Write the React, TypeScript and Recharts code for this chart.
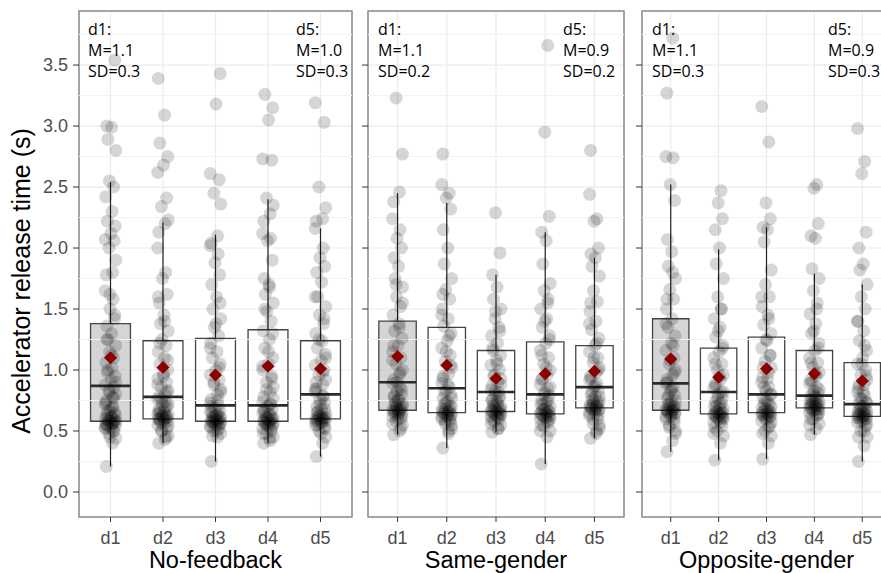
import {
  ComposedChart,
  Scatter,
  XAxis,
  YAxis,
  CartesianGrid,
  ReferenceArea,
  ReferenceLine,
} from 'recharts';

const CATS = ['d1', 'd2', 'd3', 'd4', 'd5'];
const Y_TICKS = [0, 0.5, 1, 1.5, 2, 2.5, 3, 3.5];
const Y_MINOR = [0.25, 0.75, 1.25, 1.75, 2.25, 2.75, 3.25, 3.75];
const Y_DOMAIN: [number, number] = [-0.205, 3.943];
const X_DOMAIN: [number, number] = [0.4, 5.6];

// fixed horizontal jitter pattern (category units)
const JITTER = [-0.08, 0.04, 0.1, -0.03, 0.07, -0.1, 0.01, 0.09, -0.06, 0.03, -0.09, 0.06, -0.02, 0.1, -0.05, 0.02, -0.07, 0.08, -0.01, 0.05, -0.1];

// No-feedback
const NF_D1 = [0.21, 0.4, 0.44, 0.48, 0.5, 0.52, 0.53, 0.54, 0.55, 0.56, 0.56, 0.57, 0.58, 0.59, 0.6, 0.62, 0.63, 0.65, 0.67, 0.7, 0.72, 0.75, 0.78, 0.8, 0.83, 0.86, 0.88, 0.92, 0.95, 0.98, 1.02, 1.06, 1.1, 1.15, 1.2, 1.25, 1.3, 1.36, 1.42, 1.5, 1.58, 1.65, 1.78, 1.8, 1.9, 2.0, 2.06, 2.07, 2.12, 2.18, 2.22, 2.3, 2.42, 2.5, 2.55, 2.8, 2.89, 2.99, 3.0, 3.54,
  0.45, 0.5, 0.53, 0.55, 0.56, 0.57, 0.58, 0.59, 0.6, 0.61, 0.63, 0.66, 0.69, 0.73, 0.77, 0.82, 0.9, 1.0, 1.12, 1.25, 1.45, 1.62];
const NF_D2 = [0.4, 0.43, 0.46, 0.5, 0.52, 0.55, 0.56, 0.58, 0.59, 0.6, 0.6, 0.61, 0.62, 0.63, 0.65, 0.66, 0.68, 0.7, 0.72, 0.74, 0.76, 0.78, 0.8, 0.83, 0.86, 0.9, 0.93, 0.97, 1.0, 1.05, 1.1, 1.15, 1.2, 1.25, 1.32, 1.38, 1.45, 1.55, 1.62, 1.75, 1.8, 2.0, 2.13, 2.2, 2.23, 2.34, 2.41, 2.62, 2.68, 2.75, 2.86, 3.09, 3.39,
  0.45, 0.5, 0.54, 0.57, 0.59, 0.6, 0.61, 0.62, 0.63, 0.64, 0.66, 0.69, 0.72, 0.76, 0.82, 0.88, 0.95, 1.08, 1.22, 1.4, 1.6];
const NF_D3 = [0.25, 0.45, 0.48, 0.5, 0.52, 0.54, 0.55, 0.56, 0.57, 0.58, 0.58, 0.59, 0.6, 0.61, 0.62, 0.63, 0.65, 0.67, 0.69, 0.71, 0.73, 0.76, 0.8, 0.84, 0.88, 0.92, 0.96, 1.0, 1.05, 1.1, 1.15, 1.22, 1.28, 1.35, 1.42, 1.5, 1.6, 1.7, 1.78, 1.88, 1.95, 2.02, 2.04, 2.1, 2.36, 2.45, 2.56, 2.61, 3.18, 3.43,
  0.46, 0.5, 0.53, 0.55, 0.56, 0.57, 0.58, 0.59, 0.6, 0.61, 0.62, 0.64, 0.66, 0.7, 0.75, 0.82, 0.9, 1.02, 1.18, 1.38, 1.55];
const NF_D4 = [0.4, 0.42, 0.45, 0.48, 0.5, 0.52, 0.54, 0.55, 0.56, 0.57, 0.58, 0.59, 0.6, 0.61, 0.62, 0.64, 0.66, 0.68, 0.7, 0.72, 0.74, 0.78, 0.82, 0.86, 0.9, 0.95, 1.0, 1.05, 1.1, 1.18, 1.25, 1.32, 1.4, 1.48, 1.55, 1.62, 1.7, 1.75, 1.9, 2.06, 2.08, 2.12, 2.22, 2.28, 2.35, 2.41, 2.72, 2.73, 3.05, 3.15, 3.26,
  0.44, 0.48, 0.52, 0.55, 0.56, 0.57, 0.58, 0.59, 0.6, 0.61, 0.63, 0.65, 0.68, 0.72, 0.77, 0.84, 0.93, 1.03, 1.15, 1.3, 1.5, 1.68];
const NF_D5 = [0.29, 0.4, 0.45, 0.5, 0.53, 0.55, 0.57, 0.58, 0.59, 0.6, 0.6, 0.61, 0.62, 0.64, 0.66, 0.68, 0.7, 0.73, 0.76, 0.79, 0.82, 0.85, 0.88, 0.92, 0.96, 1.0, 1.04, 1.08, 1.13, 1.18, 1.24, 1.3, 1.38, 1.45, 1.52, 1.6, 1.72, 1.8, 1.85, 1.92, 2.0, 2.16, 2.22, 2.24, 2.33, 2.5, 3.03, 3.19,
  0.48, 0.52, 0.55, 0.57, 0.58, 0.59, 0.6, 0.61, 0.62, 0.63, 0.65, 0.68, 0.72, 0.78, 0.84, 0.9, 0.98, 1.1, 1.25, 1.42, 1.6];
const NF_LOW = [0.21, 0.4, 0.25, 0.4, 0.29];
const NF_Q1 = [0.58, 0.6, 0.58, 0.58, 0.6];
const NF_MED = [0.87, 0.78, 0.71, 0.71, 0.8];
const NF_Q3 = [1.38, 1.24, 1.26, 1.33, 1.24];
const NF_HIGH = [2.54, 2.21, 2.11, 2.4, 2.16];
const NF_MEAN = [1.1, 1.02, 0.96, 1.03, 1.01];

// Same-gender
const SG_D1 = [0.47, 0.5, 0.55, 0.58, 0.6, 0.62, 0.64, 0.65, 0.66, 0.67, 0.68, 0.69, 0.7, 0.72, 0.74, 0.76, 0.78, 0.8, 0.83, 0.86, 0.89, 0.92, 0.96, 1.0, 1.05, 1.1, 1.15, 1.2, 1.26, 1.32, 1.38, 1.45, 1.52, 1.6, 1.68, 1.75, 1.85, 1.92, 2.0, 2.08, 2.15, 2.24, 2.38, 2.46, 2.77, 3.23,
  0.52, 0.56, 0.6, 0.62, 0.64, 0.65, 0.66, 0.67, 0.68, 0.7, 0.72, 0.75, 0.79, 0.84, 0.9, 0.98, 1.08, 1.2, 1.35, 1.55, 1.7];
const SG_D2 = [0.36, 0.48, 0.52, 0.56, 0.58, 0.6, 0.62, 0.63, 0.64, 0.65, 0.66, 0.67, 0.68, 0.7, 0.72, 0.74, 0.77, 0.8, 0.83, 0.86, 0.89, 0.93, 0.97, 1.02, 1.07, 1.12, 1.18, 1.24, 1.3, 1.36, 1.42, 1.5, 1.58, 1.66, 1.75, 1.87, 2.0, 2.15, 2.32, 2.41, 2.45, 2.52, 2.77,
  0.5, 0.55, 0.58, 0.6, 0.62, 0.63, 0.64, 0.65, 0.66, 0.68, 0.7, 0.73, 0.77, 0.82, 0.88, 0.95, 1.04, 1.15, 1.28, 1.45, 1.62];
const SG_D3 = [0.49, 0.52, 0.55, 0.58, 0.6, 0.62, 0.63, 0.64, 0.65, 0.66, 0.67, 0.68, 0.69, 0.7, 0.72, 0.74, 0.76, 0.78, 0.8, 0.82, 0.84, 0.87, 0.9, 0.93, 0.96, 1.0, 1.04, 1.08, 1.12, 1.16, 1.22, 1.28, 1.35, 1.42, 1.5, 1.58, 1.68, 1.78, 1.96, 2.29,
  0.52, 0.56, 0.59, 0.61, 0.63, 0.64, 0.65, 0.66, 0.67, 0.68, 0.7, 0.72, 0.75, 0.78, 0.83, 0.88, 0.95, 1.05, 1.18, 1.32, 1.48];
const SG_D4 = [0.23, 0.45, 0.5, 0.54, 0.57, 0.6, 0.61, 0.62, 0.63, 0.64, 0.65, 0.66, 0.68, 0.7, 0.72, 0.74, 0.76, 0.79, 0.82, 0.85, 0.88, 0.92, 0.96, 1.0, 1.05, 1.1, 1.16, 1.22, 1.28, 1.35, 1.42, 1.5, 1.58, 1.65, 1.71, 1.87, 2.06, 2.13, 2.26, 2.95, 3.66,
  0.5, 0.55, 0.58, 0.6, 0.62, 0.63, 0.64, 0.65, 0.66, 0.67, 0.69, 0.72, 0.75, 0.8, 0.86, 0.93, 1.02, 1.12, 1.25, 1.4, 1.55];
const SG_D5 = [0.44, 0.48, 0.52, 0.56, 0.6, 0.63, 0.65, 0.67, 0.68, 0.69, 0.7, 0.71, 0.72, 0.74, 0.76, 0.78, 0.8, 0.83, 0.86, 0.89, 0.92, 0.95, 0.98, 1.02, 1.06, 1.1, 1.15, 1.2, 1.26, 1.33, 1.4, 1.48, 1.56, 1.65, 1.77, 1.85, 1.92, 1.95, 2.0, 2.22, 2.24, 2.44, 2.8,
  0.5, 0.55, 0.6, 0.63, 0.65, 0.67, 0.68, 0.69, 0.7, 0.71, 0.73, 0.75, 0.78, 0.82, 0.87, 0.93, 1.0, 1.1, 1.22, 1.38, 1.55];
const SG_LOW = [0.47, 0.36, 0.49, 0.23, 0.44];
const SG_Q1 = [0.67, 0.65, 0.66, 0.64, 0.69];
const SG_MED = [0.9, 0.85, 0.82, 0.8, 0.86];
const SG_Q3 = [1.4, 1.35, 1.16, 1.23, 1.2];
const SG_HIGH = [2.45, 2.37, 1.78, 2.13, 1.92];
const SG_MEAN = [1.11, 1.04, 0.93, 0.97, 0.99];

// Opposite-gender
const OG_D1 = [0.33, 0.42, 0.48, 0.53, 0.57, 0.6, 0.62, 0.64, 0.65, 0.66, 0.67, 0.68, 0.69, 0.7, 0.72, 0.74, 0.77, 0.8, 0.83, 0.86, 0.89, 0.92, 0.96, 1.0, 1.05, 1.1, 1.16, 1.22, 1.28, 1.35, 1.42, 1.5, 1.58, 1.66, 1.75, 1.85, 1.97, 2.07, 2.39, 2.52, 2.74, 2.75, 3.27, 3.72,
  0.5, 0.55, 0.6, 0.62, 0.64, 0.65, 0.66, 0.67, 0.68, 0.7, 0.72, 0.75, 0.79, 0.84, 0.9, 0.98, 1.08, 1.2, 1.38, 1.58, 1.8];
const OG_D2 = [0.26, 0.4, 0.46, 0.5, 0.54, 0.57, 0.6, 0.61, 0.62, 0.63, 0.64, 0.65, 0.66, 0.68, 0.7, 0.72, 0.74, 0.77, 0.8, 0.82, 0.85, 0.88, 0.92, 0.96, 1.0, 1.05, 1.1, 1.15, 1.2, 1.27, 1.35, 1.42, 1.5, 1.6, 1.75, 1.87, 2.0, 2.15, 2.24, 2.37, 2.47,
  0.48, 0.53, 0.57, 0.6, 0.61, 0.62, 0.63, 0.64, 0.65, 0.66, 0.68, 0.7, 0.73, 0.77, 0.82, 0.88, 0.95, 1.05, 1.18, 1.32, 1.5];
const OG_D3 = [0.27, 0.4, 0.46, 0.5, 0.54, 0.58, 0.6, 0.62, 0.63, 0.64, 0.65, 0.66, 0.68, 0.7, 0.72, 0.74, 0.77, 0.8, 0.83, 0.86, 0.9, 0.94, 0.98, 1.02, 1.07, 1.12, 1.18, 1.24, 1.3, 1.37, 1.45, 1.52, 1.6, 1.7, 1.82, 2.05, 2.15, 2.17, 2.24, 2.37, 2.87, 3.16,
  0.48, 0.53, 0.57, 0.6, 0.62, 0.63, 0.64, 0.65, 0.66, 0.67, 0.69, 0.72, 0.75, 0.8, 0.86, 0.93, 1.02, 1.12, 1.25, 1.42, 1.6];
const OG_D4 = [0.47, 0.52, 0.56, 0.6, 0.63, 0.65, 0.67, 0.68, 0.69, 0.7, 0.71, 0.72, 0.73, 0.74, 0.76, 0.78, 0.79, 0.81, 0.83, 0.86, 0.89, 0.92, 0.95, 0.98, 1.02, 1.06, 1.1, 1.16, 1.22, 1.3, 1.38, 1.46, 1.55, 1.65, 1.75, 1.83, 2.08, 2.1, 2.2, 2.49, 2.52,
  0.55, 0.6, 0.63, 0.65, 0.67, 0.68, 0.69, 0.7, 0.71, 0.72, 0.73, 0.75, 0.77, 0.8, 0.84, 0.9, 0.97, 1.06, 1.18, 1.32, 1.5];
const OG_D5 = [0.25, 0.38, 0.45, 0.5, 0.54, 0.57, 0.59, 0.6, 0.61, 0.62, 0.63, 0.64, 0.65, 0.66, 0.68, 0.7, 0.72, 0.74, 0.76, 0.79, 0.82, 0.85, 0.88, 0.92, 0.96, 1.0, 1.05, 1.1, 1.16, 1.24, 1.32, 1.4, 1.5, 1.6, 1.7, 1.82, 1.87, 2.0, 2.13, 2.61, 2.71, 2.98,
  0.45, 0.5, 0.55, 0.58, 0.6, 0.61, 0.62, 0.63, 0.64, 0.65, 0.66, 0.68, 0.7, 0.73, 0.77, 0.82, 0.88, 0.95, 1.05, 1.2, 1.4];
const OG_LOW = [0.33, 0.26, 0.27, 0.47, 0.25];
const OG_Q1 = [0.67, 0.64, 0.65, 0.69, 0.62];
const OG_MED = [0.89, 0.82, 0.8, 0.79, 0.72];
const OG_Q3 = [1.42, 1.18, 1.27, 1.16, 1.06];
const OG_HIGH = [2.52, 1.99, 2.17, 1.79, 1.7];
const OG_MEAN = [1.09, 0.94, 1.01, 0.97, 0.91];

const NF_NOTES = [['d1:', 'M=1.1', 'SD=0.3'], ['d5:', 'M=1.0', 'SD=0.3']];
const SG_NOTES = [['d1:', 'M=1.1', 'SD=0.2'], ['d5:', 'M=0.9', 'SD=0.2']];
const OG_NOTES = [['d1:', 'M=1.1', 'SD=0.3'], ['d5:', 'M=0.9', 'SD=0.3']];

const BOX_HALF = 0.38;
const FONT = '"Liberation Sans", Arial, sans-serif';

interface PanelProps {
  title: string;
  groups: number[][];
  low: number[];
  q1: number[];
  med: number[];
  q3: number[];
  high: number[];
  mean: number[];
  notes: string[][];
  left: number;
  width: number;
  axisWidth: number;
  rightMargin: number;
  showYLabels: boolean;
  noteLeft: [number, number];
}

const Dot = (props: any) => (
  <circle cx={props.cx} cy={props.cy} r={6.5} fill="#000" fillOpacity={0.16} />
);

const Diamond = (props: any) => {
  const { cx, cy } = props;
  const s = 6.5;
  return (
    <polygon
      points={`${cx},${cy - s} ${cx + s},${cy} ${cx},${cy + s} ${cx - s},${cy}`}
      fill="#8b0000"
    />
  );
};

const YTitle = (props: any) => {
  const { viewBox } = props;
  const x = 21;
  const y = viewBox.y + viewBox.height / 2 + 17;
  return (
    <text
      x={x}
      y={y}
      transform={`rotate(-90, ${x}, ${y})`}
      textAnchor="middle"
      dominantBaseline="central"
      fill="#000"
      fontSize={25}
    >
      Accelerator release time (s)
    </text>
  );
};

const Panel = (p: PanelProps) => {
  const points = p.groups.flatMap((vals, i) =>
    vals.map((v, j) => ({ x: i + 1 + JITTER[j % JITTER.length], y: v }))
  );
  const means = p.mean.map((m, i) => ({ x: i + 1, y: m }));

  return (
    <div style={{ position: 'absolute', left: p.left, top: 0 }}>
      <ComposedChart
        width={p.width}
        height={573}
        margin={{ top: 11, right: p.rightMargin, left: 0, bottom: 0 }}
      >
        <CartesianGrid stroke="#ebebeb" strokeWidth={1.2} />
        {Y_MINOR.map((v) => (
          <ReferenceLine key={`m${v}`} y={v} stroke="#f3f3f3" strokeWidth={1} />
        ))}
        <XAxis
          dataKey="x"
          type="number"
          domain={X_DOMAIN}
          ticks={[1, 2, 3, 4, 5]}
          tickFormatter={(v) => CATS[v - 1]}
          allowDataOverflow
          height={56}
          axisLine={false}
          tickLine={{ stroke: '#333' }}
          tickSize={5}
          tickMargin={9}
          tick={{ fill: '#4d4d4d', fontSize: 18 }}
          label={{
            value: p.title,
            position: 'insideBottom',
            offset: 5,
            style: { fill: '#000', fontSize: 23.5 },
          }}
        />
        <YAxis
          dataKey="y"
          type="number"
          domain={Y_DOMAIN}
          ticks={Y_TICKS}
          allowDataOverflow
          width={p.axisWidth}
          axisLine={false}
          tickLine={{ stroke: '#333' }}
          tickSize={6}
          tickMargin={5}
          tickFormatter={(v) => (p.showYLabels ? v.toFixed(1) : '')}
          tick={{ fill: '#4d4d4d', fontSize: 18 }}
          label={p.showYLabels ? { content: YTitle } : undefined}
        />
        {p.q1.map((q, i) => (
          <ReferenceArea
            key={`b${i}`}
            x1={i + 1 - BOX_HALF}
            x2={i + 1 + BOX_HALF}
            y1={q}
            y2={p.q3[i]}
            fill={i === 0 ? '#b3b3b3' : 'none'}
            fillOpacity={i === 0 ? 0.55 : 0}
            stroke="#444"
            strokeWidth={1.3}
          />
        ))}
        {p.low.map((l, i) => (
          <ReferenceLine
            key={`wl${i}`}
            segment={[{ x: i + 1, y: l }, { x: i + 1, y: p.q1[i] }]}
            stroke="#222"
            strokeWidth={1.2}
          />
        ))}
        {p.high.map((h, i) => (
          <ReferenceLine
            key={`wh${i}`}
            segment={[{ x: i + 1, y: p.q3[i] }, { x: i + 1, y: h }]}
            stroke="#222"
            strokeWidth={1.2}
          />
        ))}
        {p.med.map((m, i) => (
          <ReferenceLine
            key={`md${i}`}
            segment={[{ x: i + 1 - BOX_HALF, y: m }, { x: i + 1 + BOX_HALF, y: m }]}
            stroke="#2b2b2b"
            strokeWidth={2.6}
          />
        ))}
        <Scatter data={points} dataKey="y" shape={Dot} isAnimationActive={false} />
        <Scatter data={means} dataKey="y" shape={Diamond} isAnimationActive={false} />
        <ReferenceArea
          x1={X_DOMAIN[0]}
          x2={X_DOMAIN[1]}
          y1={Y_DOMAIN[0]}
          y2={Y_DOMAIN[1]}
          fill="none"
          stroke="#8c8c8c"
          strokeWidth={1.5}
        />
      </ComposedChart>
      {p.notes.map((lines, k) => (
        <div
          key={k}
          style={{
            position: 'absolute',
            left: p.noteLeft[k],
            top: 19,
            fontFamily: '"Open Sans", sans-serif',
            fontSize: 16,
            lineHeight: '21px',
            color: '#000',
          }}
        >
          {lines.map((t) => (
            <div key={t}>{t}</div>
          ))}
        </div>
      ))}
    </div>
  );
};

export default function App() {
  return (
    <div
      style={{
        position: 'absolute',
        left: 0,
        top: 0,
        width: 881,
        height: 573,
        overflow: 'hidden',
        background: '#fff',
        fontFamily: FONT,
      }}
    >
      <Panel
        title="No-feedback"
        groups={[NF_D1, NF_D2, NF_D3, NF_D4, NF_D5]}
        low={NF_LOW}
        q1={NF_Q1}
        med={NF_MED}
        q3={NF_Q3}
        high={NF_HIGH}
        mean={NF_MEAN}
        notes={NF_NOTES}
        left={0}
        width={355}
        axisWidth={79}
        rightMargin={3}
        showYLabels
        noteLeft={[88, 296]}
      />
      <Panel
        title="Same-gender"
        groups={[SG_D1, SG_D2, SG_D3, SG_D4, SG_D5]}
        low={SG_LOW}
        q1={SG_Q1}
        med={SG_MED}
        q3={SG_Q3}
        high={SG_HIGH}
        mean={SG_MEAN}
        notes={SG_NOTES}
        left={355}
        width={275}
        axisWidth={13}
        rightMargin={6}
        showYLabels={false}
        noteLeft={[23, 208]}
      />
      <Panel
        title="Opposite-gender"
        groups={[OG_D1, OG_D2, OG_D3, OG_D4, OG_D5]}
        low={OG_LOW}
        q1={OG_Q1}
        med={OG_MED}
        q3={OG_Q3}
        high={OG_HIGH}
        mean={OG_MEAN}
        notes={OG_NOTES}
        left={630}
        width={261}
        axisWidth={12}
        rightMargin={0}
        showYLabels={false}
        noteLeft={[22, 198]}
      />
    </div>
  );
}
